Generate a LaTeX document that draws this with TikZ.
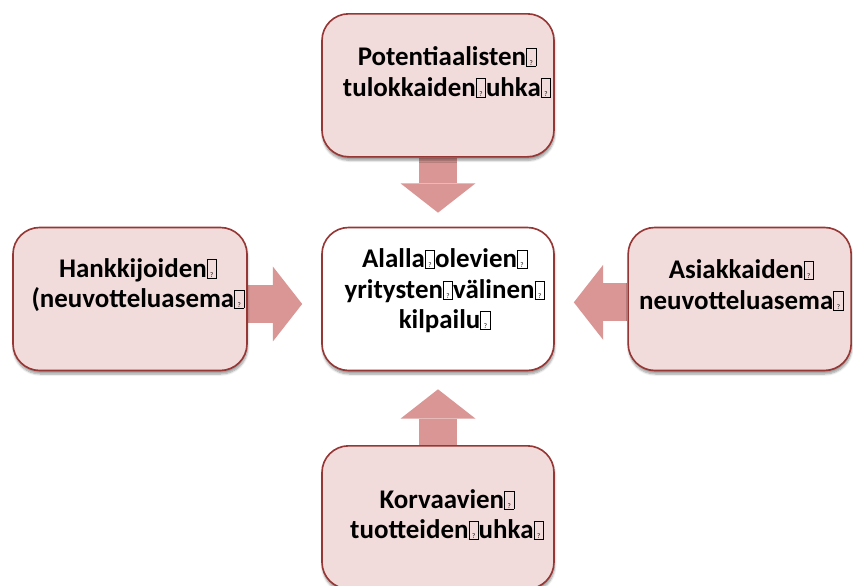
\documentclass[tikz,border=0pt]{standalone}
\usepackage{fontspec}
\setmainfont{Carlito}
\usetikzlibrary{arrows.meta, backgrounds, calc, shadows.blur}
\definecolor{boxfill}{RGB}{242,220,219}
\definecolor{boxline}{RGB}{150,55,53}
\definecolor{arrowfill}{RGB}{217,150,148}
% placeholder glyph box as printed in the picture
\newcommand{\nd}{{\setlength{\fboxsep}{0.3pt}\setlength{\fboxrule}{0.6pt}\fbox{\makebox[0.3em]{\rule{0pt}{0.62em}\fontsize{6}{6}\selectfont\mdseries ?}}}}

\begin{document}
\begin{tikzpicture}[
    box/.style={draw=boxline, line width=1.4pt, fill=boxfill, rounded corners=0.8cm, minimum width=6.96cm, minimum height=4.29cm,
        blur shadow={shadow xshift=0.5pt, shadow yshift=-3pt, shadow blur steps=6}},
    txt/.style={font=\fontsize{23}{26}\selectfont\bfseries, align=center},
    blockarrow/.style={arrowfill, line width=1.14cm, -{Triangle[length=0.88cm, width=2.25cm, line width=0pt]}}
]
    \useasboundingbox (0,0) rectangle (25.59,17.58);

    % Boxes
    \node[box] (pot) at (13.14,15.02) {};
    \node[box, fill=white] (center) at (13.14,8.61) {};
    \node[box, minimum width=7.02cm] (hank) at (3.9,8.61) {};
    \node[box, minimum width=6.69cm] (asiak) at (22.19,8.61) {};
    \node[box] (korv) at (13.14,2.06) {};

    % Texts
    \node[txt] (potText) at ($(pot)+(0.27,0.40)$) {Potentiaalisten\nd\\tulokkaiden\nd uhka\nd};
    \node[txt] (centerText) at ($(center)+(0.2,0.24)$) {Alalla\nd olevien\nd\\yritysten\nd välinen\nd\\kilpailu\nd};
    \node[txt] (hankText) at ($(hank)+(0.24,0.42)$) {Hankkijoiden\nd\\(neuvotteluasema\nd};
    \node[txt] (asiakText) at ($(asiak)+(0.05,0.42)$) {Asiakkaiden\nd\\neuvotteluasema\nd};
    \node[txt] (korvText) at ($(korv)+(0.27,0.08)$) {Korvaavien\nd\\tuotteiden\nd uhka\nd};

    % Arrows
    \begin{scope}[on background layer]
        \draw[blockarrow] (pot.south) -- ($(center.north)+(0,0.42)$);
        \draw[blockarrow] ($(hank.east)+(0,-0.15)$) -- ($(center.west)+(-0.57,-0.15)$);
        \draw[blockarrow] ($(asiak.west)+(0,-0.1)$) -- ($(center.east)+(0.57,-0.1)$);
        \draw[blockarrow] (korv.north) -- ($(center.south)+(0,-0.54)$);
    \end{scope}
\end{tikzpicture}
\end{document}
